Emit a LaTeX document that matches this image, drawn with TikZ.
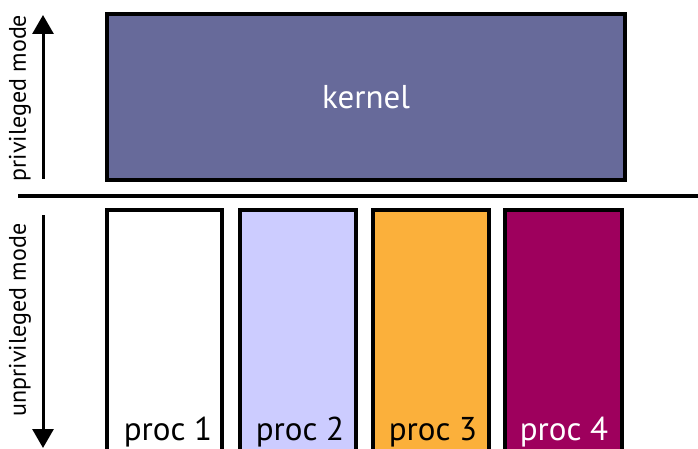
\documentclass[tikz,border=0pt]{standalone}
\usepackage{fontspec}
\setmainfont{PT Sans}
\usepackage{tikz}
\usetikzlibrary{arrows.meta}

\definecolor{kernelblue}{RGB}{103,106,154}
\definecolor{proclav}{RGB}{204,204,255}
\definecolor{procorange}{RGB}{251,176,59}
\definecolor{procplum}{RGB}{158,0,93}

\tikzset{
  membox/.style={draw=black, line width=4pt, inner sep=0pt},
  modearrow/.style={line width=3pt, -{Triangle[width=21pt,length=19pt]}},
  modelabel/.style={rotate=90, inner sep=0.75pt, font=\fontsize{24}{28}\selectfont},
  proclabel/.style={anchor=base, inner sep=0.75pt, font=\fontsize{33}{38}\selectfont}
}

\begin{document}
\begin{tikzpicture}[x=1pt,y=1pt,yscale=-1,xscale=1]
\useasboundingbox (0,0) rectangle (698,449);

%Kernel box
\node [membox, fill=kernelblue, minimum width=518pt, minimum height=166pt] (kernel) at (366,97) {};
\node [text=white, inner sep=0.75pt, font=\fontsize{33}{38}\selectfont] (kerneltext) at (kernel.center) {kernel};

%Mode separator
\coordinate (sepl) at (18,196);
\coordinate (sepr) at (700,196);
\draw [line width=4pt] (sepl) -- (sepr);

%Process boxes
\node [membox, fill=white, minimum width=115pt, minimum height=250pt] (proc1) at (164.5,335) {};
\node [membox, fill=proclav, minimum width=116pt, minimum height=250pt] (proc2) at (298,335) {};
\node [membox, fill=procorange, minimum width=116pt, minimum height=250pt] (proc3) at (431,335) {};
\node [membox, fill=procplum, minimum width=117pt, minimum height=250pt] (proc4) at (563.5,335) {};

% Text Node
\node [proclabel] (p1text) at (168,440) {proc 1};
% Text Node
\node [proclabel] (p2text) at (300,440) {proc 2};
% Text Node
\node [proclabel] (p3text) at (433,440) {proc 3};
% Text Node
\node [proclabel, text=white] (p4text) at (564,440) {proc 4};

%Mode arrows
\coordinate (privbot) at (43,179);
\coordinate (privtop) at (43,15);
\draw [modearrow] (privbot) -- (privtop);
\coordinate (unprivtop) at (43,215);
\coordinate (unprivbot) at (43,448);
\draw [modearrow] (unprivtop) -- (unprivbot);

% Text Node
\node [modelabel] (privtext) at (20,98) {privileged mode};
% Text Node
\node [modelabel] (unprivtext) at (20,320) {unprivileged mode};

\end{tikzpicture}
\end{document}
